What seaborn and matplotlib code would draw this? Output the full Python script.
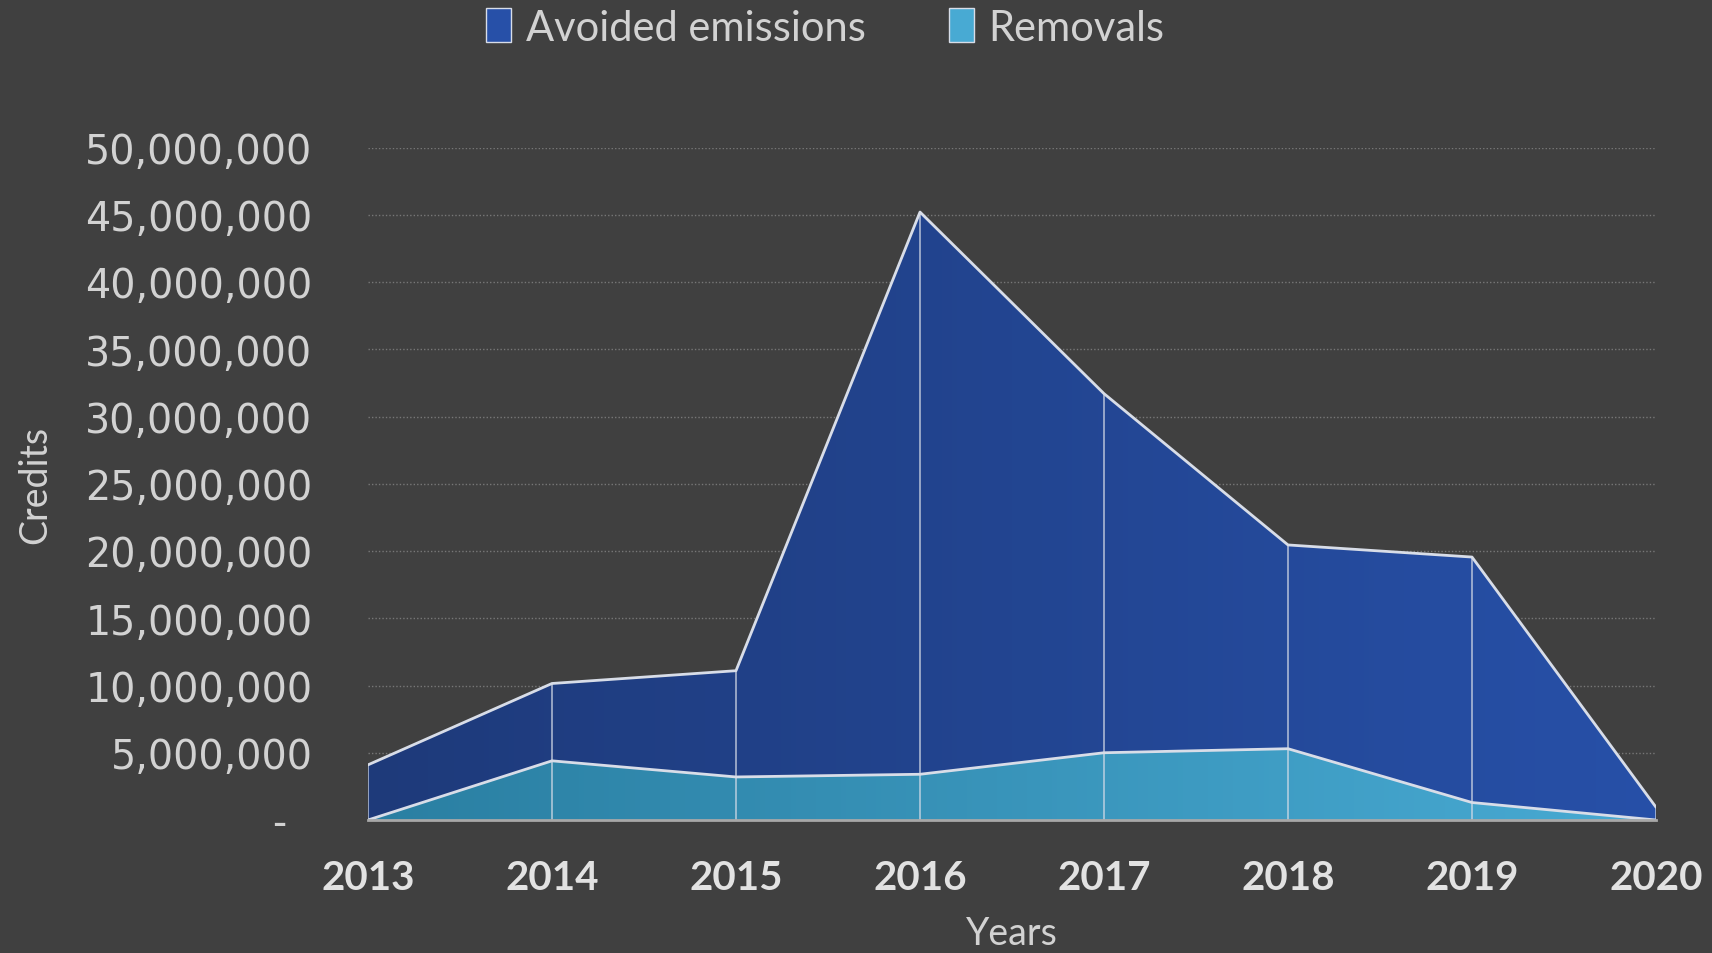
"""Stacked area chart of issued credits: avoided emissions vs removals"""
import numpy as np
import pandas as pd
import matplotlib.pyplot as plt
from matplotlib.colors import LinearSegmentedColormap
from matplotlib.patches import Patch
from matplotlib.ticker import FuncFormatter
import seaborn as sns


YEARS = [2013, 2014, 2015, 2016, 2017, 2018, 2019, 2020]
REMOVALS = [0.0, 4.4e6, 3.2e6, 3.4e6, 5.0e6, 5.3e6, 1.3e6, 0.0]
AVOIDED = [4.1e6, 5.75e6, 7.9e6, 41.8e6, 26.7e6, 15.15e6, 18.25e6, 0.95e6]

BG = '#404040'
TEXT = '#d2d2d2'
EDGE = '#d8dde8'
AVOIDED_GRAD = ['#1e3a7a', '#2750a8']
REMOVALS_GRAD = ['#2a7fa2', '#48aad3']


def fill_gradient(ax, poly, colors, ymax):
    """Paints a left-to-right gradient clipped to an area polygon"""
    cmap = LinearSegmentedColormap.from_list('g', colors)
    grad = np.linspace(0, 1, 256).reshape(1, -1)
    im = ax.imshow(grad, cmap=cmap, aspect='auto', origin='lower',
                   extent=(YEARS[0], YEARS[-1], 0, ymax), zorder=2)
    im.set_clip_path(poly.get_paths()[0], ax.transData)
    poly.set_facecolor('none')


def plot_credits():
    df = pd.DataFrame({'Year': YEARS,
                       'Removals': REMOVALS,
                       'Avoided emissions': AVOIDED})
    df['Total'] = df['Removals'] + df['Avoided emissions']

    sns.set_theme(style='dark', rc={'axes.facecolor': BG,
                                    'figure.facecolor': BG})
    fig = plt.figure(figsize=(17.12, 9.54), dpi=100)
    ax = fig.add_axes([368 / 1712, 1 - 821 / 954,
                       (1656 - 368) / 1712, (821 - 148.5) / 954])

    ymax = 50e6
    polys = ax.stackplot(df['Year'], df['Removals'], df['Avoided emissions'],
                         linewidth=0, zorder=2)
    fill_gradient(ax, polys[0], REMOVALS_GRAD, ymax)
    fill_gradient(ax, polys[1], AVOIDED_GRAD, ymax)

    # light outlines on top of each band, plus drop lines at each year
    sns.lineplot(data=df, x='Year', y='Removals', color=EDGE, lw=2,
                 ax=ax, zorder=4)
    sns.lineplot(data=df, x='Year', y='Total', color=EDGE, lw=2,
                 ax=ax, zorder=4)
    ax.vlines(df['Year'], 0, df['Total'], color=EDGE, lw=1.2,
              alpha=0.75, zorder=3)

    ax.set_xlim(YEARS[0], YEARS[-1])
    ax.set_ylim(0, ymax)
    ax.set_yticks(np.arange(0, ymax + 1, 5e6))
    ax.yaxis.set_major_formatter(FuncFormatter(
        lambda v, p: f'{v:,.0f}' if v > 0 else '-  '))
    ax.set_xticks(YEARS)
    ax.grid(axis='y', color='#777777', linestyle=(0, (1, 1.5)), lw=1,
            zorder=1)
    ax.grid(axis='x', visible=False)
    for side in ['top', 'right', 'left']:
        ax.spines[side].set_visible(False)
    ax.spines['bottom'].set_color('#a8a8a8')
    ax.spines['bottom'].set_linewidth(2)
    ax.spines['bottom'].set_zorder(5)

    ax.tick_params(axis='y', length=0, pad=40, labelsize=28.5,
                   labelcolor=TEXT)
    ax.tick_params(axis='x', length=0, pad=28, labelsize=29,
                   labelcolor='#e2e2e2')
    for lab in ax.get_xticklabels():
        lab.set_fontweight('bold')
        lab.set_family(['Lato', 'DejaVu Sans'])
    for lab in ax.get_yticklabels():
        lab.set_family(['DejaVu Sans'])

    ax.set_xlabel('Years', fontsize=27, color=TEXT, labelpad=14,
                  family=['Lato', 'DejaVu Sans'])
    ax.set_ylabel('Credits', fontsize=27, color=TEXT,
                  family=['Lato', 'DejaVu Sans'])
    ax.yaxis.set_label_coords(-0.244, 0.5)

    handles = [Patch(facecolor=AVOIDED_GRAD[1], edgecolor=EDGE, lw=1),
               Patch(facecolor=REMOVALS_GRAD[1], edgecolor=EDGE, lw=1)]
    fig.legend(handles, ['Avoided emissions', 'Removals'],
               loc='upper center', bbox_to_anchor=(0.482, 1.03), ncol=2,
               frameon=False, labelcolor=TEXT,
               handlelength=0.6, handleheight=0.9, handletextpad=0.35,
               columnspacing=2.0, prop={'family': ['Lato', 'DejaVu Sans'],
                                        'size': 30})

    fig.savefig('out.png', dpi=100, facecolor=BG)


if __name__ == '__main__':
    plot_credits()
